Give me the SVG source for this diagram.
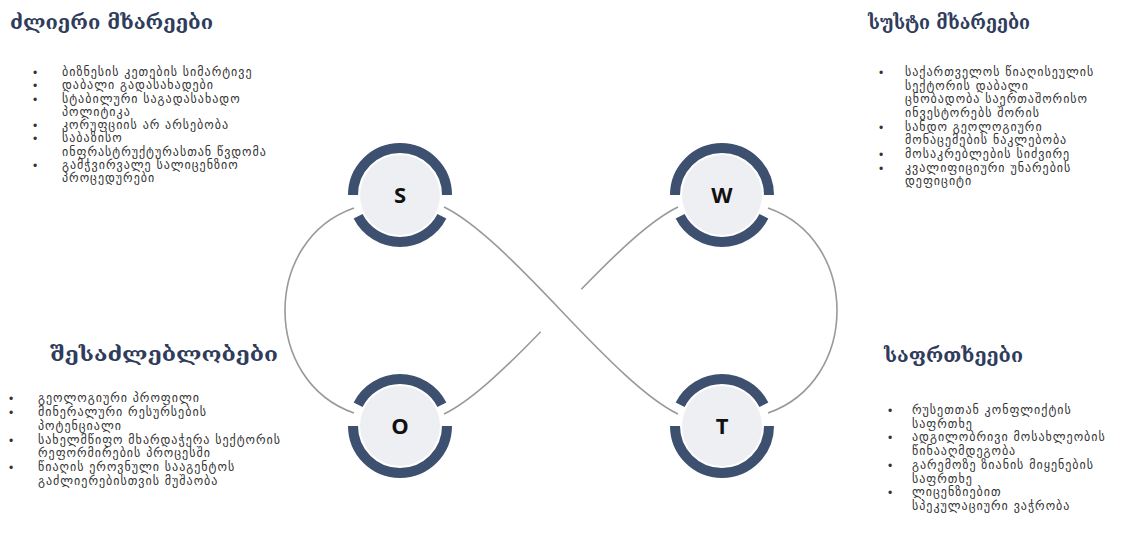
<svg xmlns="http://www.w3.org/2000/svg" width="1137" height="555" viewBox="0 0 1137 555">
<style>
.title{font-family:"DejaVu Serif","DejaVu Sans",serif;font-weight:bold;font-size:20px;fill:#2f3c5c}
.body{font-family:"DejaVu Sans",sans-serif;font-size:12px;letter-spacing:1px;fill:#333}
.bul{font-family:"Liberation Sans",sans-serif;font-size:12px;fill:#333}
.conn{fill:none;stroke:#999;stroke-width:1.6}
.inner{fill:#eeeff3}
.ring{fill:none;stroke:#3e5070;stroke-width:10}
.letter{font-family:"Open Sans","Liberation Sans",sans-serif;font-weight:bold;font-size:22px;fill:#111;text-anchor:middle}
</style>
<rect width="1137" height="555" fill="#fff"/>
<g id="connectors">
<path class="conn" d="M354,208 C262,240 262,381 354,413"/>
<path class="conn" d="M768,208 C860,240 860,381 768,413"/>
<path class="conn" d="M444,207 C475,222 515,262 561,310.5 C607,359 647,399 678,414"/>
<path class="conn" d="M444,414 C470.35,401.25 503.2,370.44 540.7,331.7"/>
<path class="conn" d="M581.3,289.3 C618.8,250.56 651.65,219.75 678,207"/>
</g>
<g id="node-S">
<circle class="inner" cx="400" cy="195" r="40"/>
<path class="ring" d="M353,195 A47,47 0 0 1 447,195"/>
<path class="ring" d="M441.9,216.3 A47,47 0 0 1 358.1,216.3"/>
<text class="letter" x="400" y="203">S</text>
</g>
<g id="node-W">
<circle class="inner" cx="722" cy="195" r="40"/>
<path class="ring" d="M675,195 A47,47 0 0 1 769,195"/>
<path class="ring" d="M763.9,216.3 A47,47 0 0 1 680.1,216.3"/>
<text class="letter" x="722" y="203">W</text>
</g>
<g id="node-O">
<circle class="inner" cx="400" cy="426" r="40"/>
<path class="ring" d="M358.1,404.7 A47,47 0 0 1 441.9,404.7"/>
<path class="ring" d="M447,426 A47,47 0 0 1 353,426"/>
<text class="letter" x="400" y="434">O</text>
</g>
<g id="node-T">
<circle class="inner" cx="722" cy="426" r="40"/>
<path class="ring" d="M680.1,404.7 A47,47 0 0 1 763.9,404.7"/>
<path class="ring" d="M769,426 A47,47 0 0 1 675,426"/>
<text class="letter" x="722" y="434">T</text>
</g>
<g id="strengths">
<text class="title" x="10" y="29" textLength="203" lengthAdjust="spacingAndGlyphs">ძლიერი მხარეები</text>
<g class="bul"><text x="33" y="77">•</text><text x="33" y="90.3">•</text><text x="33" y="103.5">•</text><text x="33" y="130">•</text><text x="33" y="143.3">•</text><text x="33" y="169.8">•</text></g>
<g class="body">
<text x="62" y="76">ბიზნესის კეთების სიმარტივე</text>
<text x="62" y="89.3">დაბალი გადასახადები</text>
<text x="62" y="102.5">სტაბილური საგადასახადო</text>
<text x="62" y="115.8">პოლიტიკა</text>
<text x="62" y="129">კორუფციის არ არსებობა</text>
<text x="62" y="142.3">საბაზისო</text>
<text x="62" y="155.5">ინფრასტრუქტურასთან წვდომა</text>
<text x="62" y="168.8">გამჭვირვალე სალიცენზიო</text>
<text x="62" y="182">პროცედურები</text>
</g>
</g>
<g id="weaknesses">
<text class="title" x="868" y="29" textLength="162" lengthAdjust="spacingAndGlyphs">სუსტი მხარეები</text>
<g class="bul"><text x="879" y="77">•</text><text x="879" y="131.6">•</text><text x="879" y="158.9">•</text><text x="879" y="172.5">•</text></g>
<g class="body">
<text x="905" y="76">საქართველოს წიაღისეულის</text>
<text x="905" y="89.6">სექტორის დაბალი</text>
<text x="905" y="103.3">ცნობადობა საერთაშორისო</text>
<text x="905" y="116.9">ინვესტორებს შორის</text>
<text x="905" y="130.6">სანდო გეოლოგიური</text>
<text x="905" y="144.2">მონაცემების ნაკლებობა</text>
<text x="905" y="157.9">მოსაკრებლების სიძვირე</text>
<text x="905" y="171.5">კვალიფიციური უნარების</text>
<text x="905" y="185">დეფიციტი</text>
</g>
</g>
<g id="opportunities">
<text class="title" x="50" y="361" textLength="228" lengthAdjust="spacingAndGlyphs">შესაძლებლობები</text>
<g class="bul"><text x="9" y="403">•</text><text x="9" y="416.8">•</text><text x="9" y="444.5">•</text><text x="9" y="472.2">•</text></g>
<g class="body">
<text x="38" y="402">გეოლოგიური პროფილი</text>
<text x="38" y="415.8">მინერალური რესურსების</text>
<text x="38" y="429.7">პოტენციალი</text>
<text x="38" y="443.5">სახელმწიფო მხარდაჭერა სექტორის</text>
<text x="38" y="457.3">რეფორმირების პროცესში</text>
<text x="38" y="471.2">წიაღის ეროვნული სააგენტოს</text>
<text x="38" y="485">გაძლიერებისთვის მუშაობა</text>
</g>
</g>
<g id="threats">
<text class="title" x="884" y="362" textLength="139" lengthAdjust="spacingAndGlyphs">საფრთხეები</text>
<g class="bul"><text x="888" y="415">•</text><text x="888" y="442.4">•</text><text x="888" y="469.9">•</text><text x="888" y="497.3">•</text></g>
<g class="body">
<text x="912" y="414">რუსეთთან კონფლიქტის</text>
<text x="912" y="427.7">საფრთხე</text>
<text x="912" y="441.4">ადგილობრივი მოსახლეობის</text>
<text x="912" y="455.1">წინააღმდეგობა</text>
<text x="912" y="468.9">გარემოზე ზიანის მიყენების</text>
<text x="912" y="482.6">საფრთხე</text>
<text x="912" y="496.3">ლიცენზიებით</text>
<text x="912" y="510">სპეკულაციური ვაჭრობა</text>
</g>
</g>
</svg>
